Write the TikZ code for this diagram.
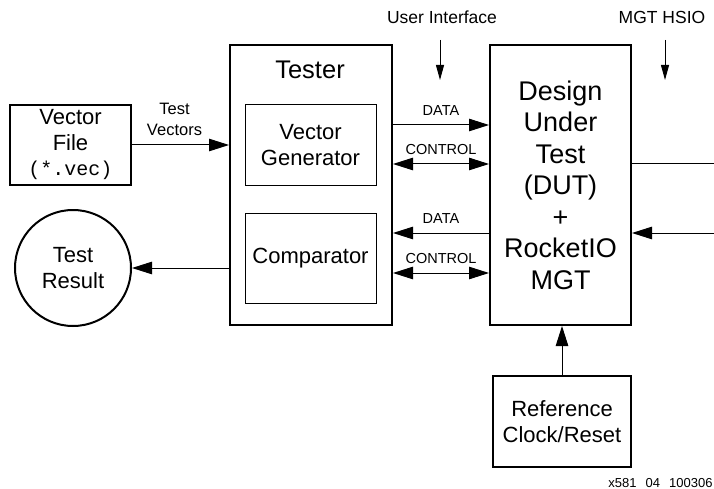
\documentclass[tikz,border=0pt]{standalone}
\usepackage{fontspec}
\setmainfont{Liberation Sans}
\setmonofont{Liberation Mono}
\usetikzlibrary{arrows.meta}

\begin{document}
\begin{tikzpicture}[>={Triangle[length=20pt,width=12.5pt]},x=1pt,y=-1pt,
                    line width=1pt,
                    block/.style={draw,line width=2pt,inner sep=0pt,align=center,
                                  font=\fontsize{22}{25.5}\selectfont},
                    subblock/.style={draw,line width=1pt,inner sep=0pt,align=center,
                                  font=\fontsize{22}{26.5}\selectfont},
                    sig/.style={font=\fontsize{14.5}{16}\selectfont,inner sep=0pt},
                    pin/.style={-{Triangle[length=15pt,width=8pt]}}]

  \useasboundingbox (0,0) rectangle (714,489);

  \node[block,minimum width=121pt,minimum height=80pt] (vfile) at (70.5,145)
       {Vector\\File\\{\ttfamily\fontsize{20}{24}\selectfont(*.vec)}};
  \node[block,circle,minimum size=116pt] (result) at (73,268) {Test\\Result};

  \node[block,minimum width=162pt,minimum height=280pt] (tester) at (311,185) {};
  \node[font=\fontsize{25.5}{30}\selectfont,inner sep=0pt] (title) at (310,69.5) {Tester};
  \node[subblock,minimum width=131pt,minimum height=80pt] (gen) at (310.5,145) {Vector\\Generator};
  \node[subblock,minimum width=131pt,minimum height=90pt] (cmp) at (310.5,258) {Comparator};

  \node[block,minimum width=141pt,minimum height=280pt,
        font=\fontsize{27}{31.5}\selectfont] (dut) at (560.5,185)
       {Design\\Under\\Test\\(DUT)\\+\\RocketIO\\MGT};
  \node[block,minimum width=138pt,minimum height=91pt] (ref) at (562,421.5)
       {Reference\\Clock/Reset};

  \node[font=\fontsize{17.5}{20}\selectfont,inner sep=0pt] (ui) at (442,17) {User Interface};
  \node[font=\fontsize{17.5}{20}\selectfont,inner sep=0pt] (hsio) at (662,17) {MGT HSIO};
  \node[font=\fontsize{13}{15}\selectfont,inner sep=0pt,anchor=east] (fig) at (713,483)
       {x581\hspace{9pt}04\hspace{9pt}100306};

  \coordinate (uistart) at (440,40);
  \coordinate (uiend)   at (440,80);
  \coordinate (hsstart) at (665,40);
  \coordinate (hsend)   at (665,80);
  \coordinate (hsout)   at (714,164);
  \coordinate (hsin)    at (714,233);

  % tester side
  \draw[->] (vfile.east) -- (vfile.east -| tester.west)
        node[midway,above=9pt,xshift=-6pt,inner sep=0pt,align=center,
             font=\fontsize{16.5}{21}\selectfont] {Test\\Vectors};
  \draw[->] (result.east -| tester.west) -- (result.east);

  % tester to DUT
  \draw[->]  ([yshift=60pt]tester.east) -- ([yshift=60pt]dut.west)
        node[sig,midway,above=9pt] {DATA};
  \draw[<->] ([yshift=21pt]tester.east) -- ([yshift=21pt]dut.west)
        node[sig,midway,above=9pt] {CONTROL};
  \draw[<-]  ([yshift=-48pt]tester.east) -- ([yshift=-48pt]dut.west)
        node[sig,midway,above=9pt] {DATA};
  \draw[<->] ([yshift=-88pt]tester.east) -- ([yshift=-88pt]dut.west)
        node[sig,midway,above=9pt] {CONTROL};

  % DUT side
  \draw[pin] (uistart) -- (uiend);
  \draw[pin] (hsstart) -- (hsend);
  \draw (dut.east |- hsout) -- (hsout);
  \draw[->] (hsin) -- (dut.east |- hsin);
  \draw[->] (ref.north) -- (ref.north |- dut.south);
\end{tikzpicture}
\end{document}
